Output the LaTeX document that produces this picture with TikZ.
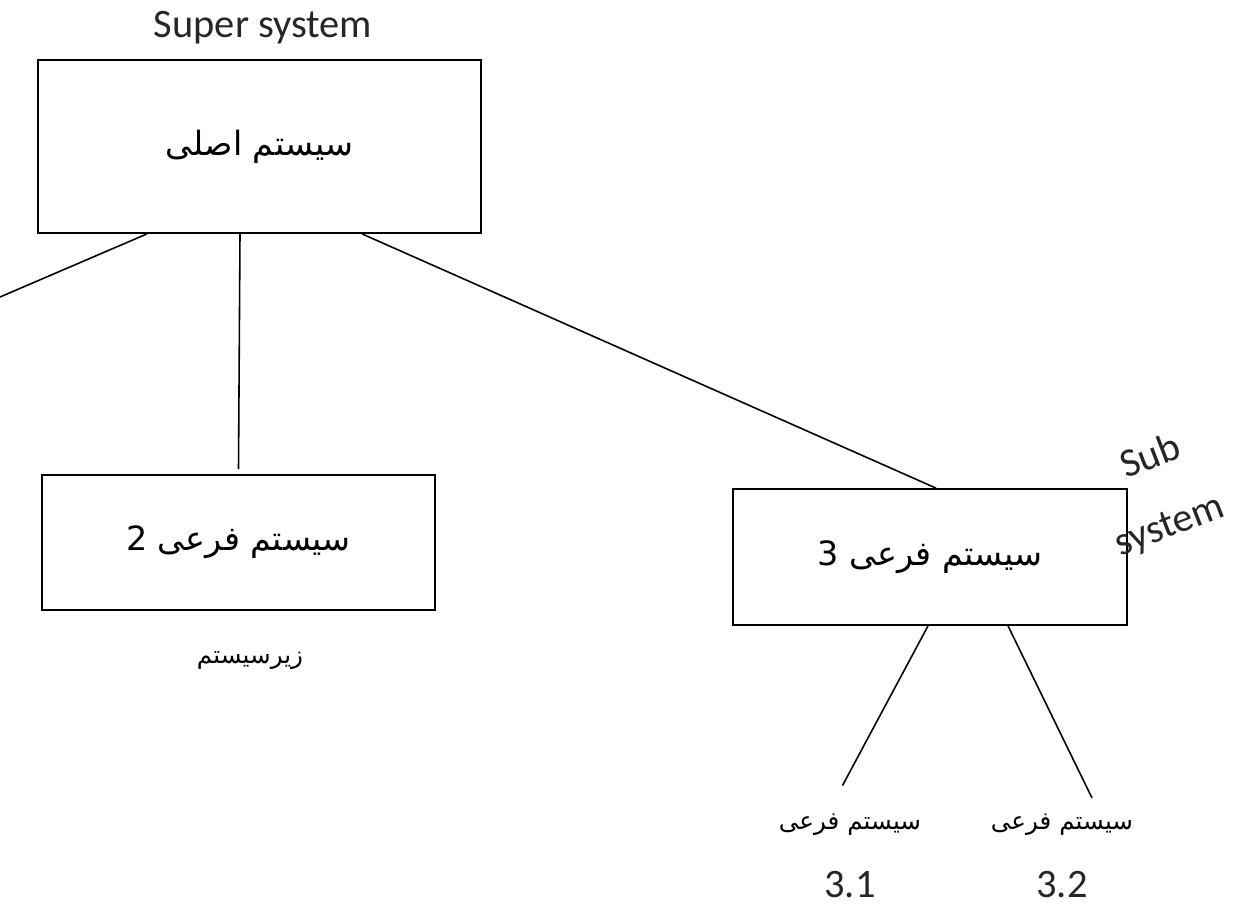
\documentclass[tikz,border=0pt]{standalone}
\usepackage{fontspec}
\setmainfont{Carlito}
\newfontfamily\farsi[Script=Arabic]{DejaVu Sans}
\TeXXeTstate=1
\usepackage{tikz}

\begin{document}
\begin{tikzpicture}[
	box/.style = {draw, line width=1pt, inner sep=0pt},
	fa/.style = {font=\farsi\fontsize{19}{22}\selectfont},
	fasmall/.style = {font=\farsi\fontsize{14}{16}\selectfont},
	en/.style = {font=\fontsize{23}{26}\selectfont, text=black!85},
	edge/.style = {line width=0.9pt}]
\useasboundingbox (0,0) rectangle (24.78,-18.18);

\node[en] (super) at (5.26,-0.56) {Super system};
\node[box, fa, minimum width=8.86cm, minimum height=3.46cm] (main) at (5.19,-2.93) {\beginR سیستم اصلی\endR};
\node[box, fa, minimum width=7.86cm, minimum height=2.70cm] (sub2) at (4.77,-10.85) {\beginR سیستم فرعی 2\endR};
\node[box, fa, minimum width=7.88cm, minimum height=2.72cm] (sub3) at (18.6,-11.14) {\beginR سیستم فرعی 3\endR};
\node[fasmall] (zir) at (5.0,-13.2) {\beginR زیرسیستم\endR};
\node[en, rotate=21, inner sep=0pt] (sub) at (23.0,-9.1) {Sub};
\node[en, rotate=21, inner sep=0pt] (system) at (23.4,-10.54) {system};

\foreach \n/\x/\t in {1/17.0/3.1, 2/21.24/3.2} {
	\node[fasmall] (leaf\n) at (\x,-16.5) {\beginR سیستم فرعی\endR};
	\node[en] (num\n) at (\x,-17.7) {\t};
}

\coordinate (sub1) at (0,-5.94);
\draw[edge] ([xshift=-2.25cm]main.south) -- (sub1);
\draw[edge] ([xshift=-0.39cm]main.south) -- ([yshift=0.1cm]sub2.north);
\draw[edge] ([xshift=2.05cm]main.south) -- ([xshift=0.12cm]sub3.north);
\draw[edge] ([xshift=-0.04cm]sub3.south) -- ([xshift=-0.15cm, yshift=0.45cm]leaf1.north);
\draw[edge] ([xshift=1.56cm]sub3.south) -- ([xshift=0.6cm, yshift=0.2cm]leaf2.north);
%\draw[edge] (leaf1) -- (num1);
\end{tikzpicture}
\end{document}
